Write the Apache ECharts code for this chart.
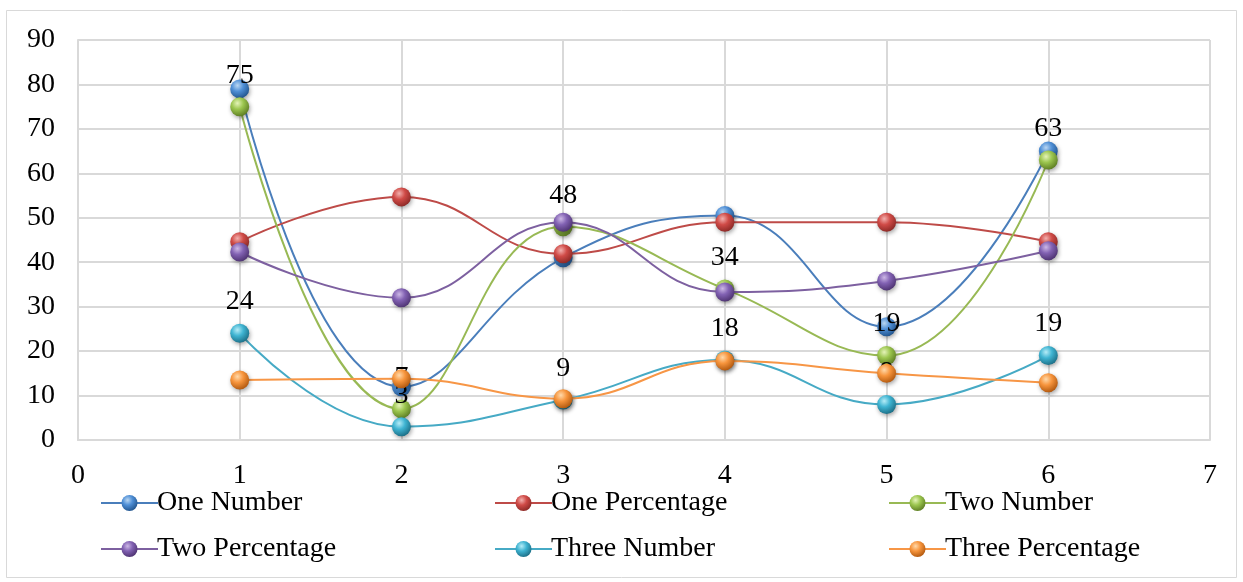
<!DOCTYPE html>
<html><head><meta charset="utf-8">
<script src="https://cdn.jsdelivr.net/npm/echarts@6/dist/echarts.min.js"></script>
<style>html,body{margin:0;padding:0;background:#fff}#c{width:1243px;height:582px}</style>
</head><body><div id="c"></div>
<script>
const xValues = [1, 2, 3, 4, 5, 6];
const oneNumber = [79, 12, 41, 50.5, 25.5, 65];
const onePercentage = [44.6, 54.7, 41.9, 49, 49, 44.6];
const twoNumber = [75, 7, 48, 34, 19, 63];
const twoPercentage = [42.3, 32, 49, 33.3, 35.8, 42.6];
const threeNumber = [24, 3, 9, 18, 8, 19];
const threePercentage = [13.5, 13.8, 9.3, 17.8, 15, 12.9];
const seriesNames = ['One Number', 'One Percentage', 'Two Number', 'Two Percentage', 'Three Number', 'Three Percentage'];
const yTicks = [0, 10, 20, 30, 40, 50, 60, 70, 80, 90];
const xTicks = [0, 1, 2, 3, 4, 5, 6, 7];

const FONT = '"Liberation Serif", "Times New Roman", serif';
const FS = 28;
const lineColors = ['#4a7ebb', '#be4b48', '#98b954', '#7d60a0', '#46aac5', '#f79646'];
const sphere = [
  ['#b9d6f2', '#4f8fd6', '#23568f'],
  ['#f2b0ae', '#d04b47', '#8e2a27'],
  ['#e4f3b8', '#9cc64f', '#5f7f24'],
  ['#cdb8e6', '#8262b3', '#4f3473'],
  ['#b5ecf7', '#3fb4d2', '#1d7088'],
  ['#ffd9aa', '#f7953d', '#b35a10']
];
const allData = [oneNumber, onePercentage, twoNumber, twoPercentage, threeNumber, threePercentage];
const labeled = [false, false, true, false, true, false];

function grad(c) {
  return { type: 'radial', x: 0.38, y: 0.32, r: 0.7,
    colorStops: [{ offset: 0, color: c[0] }, { offset: 0.45, color: c[1] }, { offset: 1, color: c[2] }] };
}

const series = allData.map((d, i) => ({
  name: seriesNames[i],
  type: 'line',
  smooth: 0.45,
  data: xValues.map((x, j) => [x, d[j]]),
  symbol: 'circle',
  symbolSize: 19,
  lineStyle: { color: lineColors[i], width: 2 },
  itemStyle: { color: grad(sphere[i]), shadowBlur: 4, shadowColor: 'rgba(0,0,0,0.35)', shadowOffsetX: 1, shadowOffsetY: 2 },
  label: labeled[i] ? { show: true, position: 'top', distance: 8, color: '#000', fontFamily: FONT, fontSize: FS,
    formatter: p => String(Math.round(p.value[1])) } : { show: false },
  labelLayout: { hideOverlap: false },
  z: 2 + i
}));

const legendPos = [[100, 489], [494, 489], [888, 489], [100, 535], [494, 535], [888, 535]];
const legends = seriesNames.map((n, i) => ({
  data: [n], left: legendPos[i][0], top: legendPos[i][1], padding: 0,
  itemWidth: 57, itemHeight: 20, itemGap: 0,
  textStyle: { fontFamily: FONT, fontSize: FS, color: '#000', padding: [0, 0, 0, -6] },
  selectedMode: false
}));

const chart = echarts.init(document.getElementById('c'), null, { renderer: 'canvas' });
chart.setOption({
  animation: false,
  backgroundColor: '#fff',
  graphic: [{ type: 'rect', shape: { x: 6.5, y: 10.5, width: 1230, height: 567 }, style: { fill: 'none', stroke: '#d9d9d9', lineWidth: 1 }, silent: true }],
  grid: { left: 78, right: 33, top: 40, bottom: 142 },
  legend: legends,
  xAxis: {
    type: 'value', min: xTicks[0], max: xTicks[xTicks.length - 1], interval: 1,
    axisLine: { show: true, lineStyle: { color: '#d9d9d9', width: 2 } },
    axisTick: { show: false },
    splitLine: { show: true, lineStyle: { color: '#d9d9d9', width: 2 } },
    axisLabel: { margin: 22, fontFamily: FONT, fontSize: FS, color: '#000' }
  },
  yAxis: {
    type: 'value', min: yTicks[0], max: yTicks[yTicks.length - 1], interval: 10,
    axisLine: { show: true, lineStyle: { color: '#d9d9d9', width: 2 } },
    axisTick: { show: false },
    splitLine: { show: true, lineStyle: { color: '#d9d9d9', width: 2 } },
    axisLabel: { margin: 23, fontFamily: FONT, fontSize: FS, color: '#000' }
  },
  series: series
});
</script></body></html>
